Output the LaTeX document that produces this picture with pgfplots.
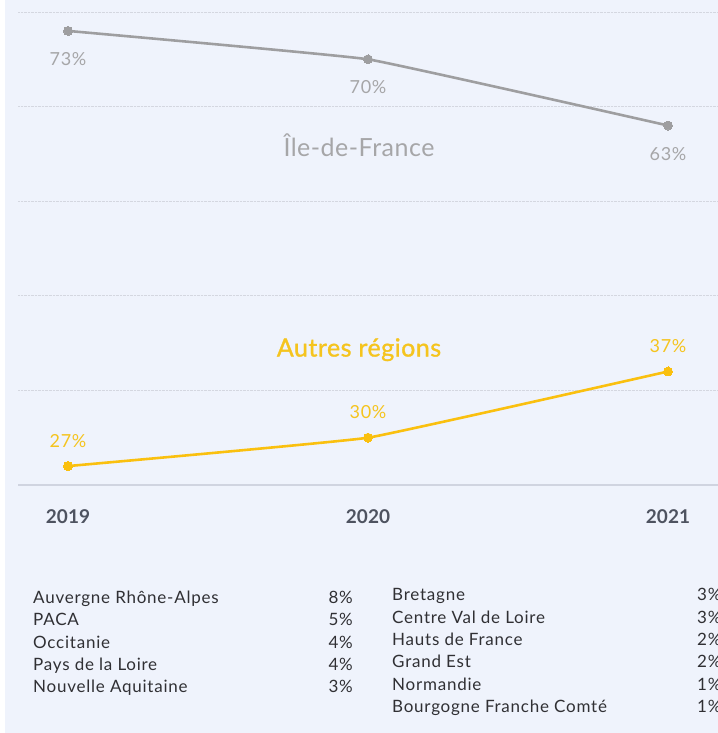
\documentclass[border=0pt]{standalone}
\usepackage{pgfplots}
\pgfplotsset{compat=1.18}
\usepackage{fontspec}
\setmainfont{Lato}
\newfontfamily\tabfont{Lato}[LetterSpace=4.5]
\newfontfamily\labfont{Lato}[LetterSpace=4]
\newfontfamily\serfont{Lato}[LetterSpace=2]
\newfontfamily\serbfont{Lato}[LetterSpace=2, FakeBold=1.2]
\definecolor{bg}{RGB}{239,243,252}
\definecolor{gridc}{RGB}{212,215,224}
\definecolor{axisc}{RGB}{208,212,224}
\definecolor{grayline}{RGB}{158,158,160}
\definecolor{graytext}{RGB}{166,166,168}
\definecolor{yellowline}{RGB}{250,192,15}
\definecolor{yellowtext}{RGB}{245,196,30}
\definecolor{tickc}{RGB}{78,83,96}
\definecolor{tablec}{RGB}{48,48,52}
\begin{document}
\begin{tikzpicture}
\fill[bg] (0,0) rectangle (718bp,733bp);
\fill[white] (0,0) rectangle (5bp,733bp);
\begin{axis}[
  at={(18bp,248bp)}, anchor=south west,
  scale only axis, width=700bp, height=473bp,
  xmin=2018.8333, xmax=2021.1667, ymin=25, ymax=75,
  xtick={2019,2020,2021}, xticklabels={2019,2020,2021},
  ytick={35,45,55,65,75}, yticklabels={},
  ymajorgrids, grid style={densely dotted, gridc, line width=0.9pt},
  extra y ticks={25}, extra y tick labels={},
  extra y tick style={grid style={solid, axisc, line width=1.5pt}},
  axis line style={draw=none},
  major tick length=0pt,
  xticklabel style={font=\fontsize{19bp}{21bp}\selectfont\bfseries, text=tickc, anchor=base, yshift=-39bp},
  clip=false,
  point meta=explicit symbolic,
  nodes near coords,
]
\addplot[grayline, line width=2.6pt, smooth, tension=0.15, mark=*, mark size=4.5bp, mark options={fill=grayline, draw=grayline, line width=0pt},
  every node near coord/.append style={anchor=base, yshift=-34.5bp, text=graytext, font=\labfont\fontsize{18bp}{20bp}\selectfont}]
  coordinates {(2019,73) [73\%] (2020,70) [70\%] (2021,63) [63\%]};
\addplot[yellowline, line width=2.6pt, smooth, tension=0.15, mark=*, mark size=4.5bp, mark options={fill=yellowline, draw=yellowline, line width=0pt},
  every node near coord/.append style={anchor=base, yshift=19bp, text=yellowtext, font=\labfont\fontsize{18bp}{20bp}\selectfont}]
  coordinates {(2019,27) [27\%] (2020,30) [30\%] (2021,37) [37\%]};
\node[text=graytext, font=\serfont\fontsize{25bp}{27bp}\selectfont] at (axis cs:2019.97,60.9) {Île-de-France};
\node[text=yellowtext, font=\serbfont\fontsize{25bp}{27bp}\selectfont] at (axis cs:2019.97,39.3) {Autres régions};
\end{axis}
\begin{scope}[every node/.style={text=tablec, font=\tabfont\fontsize{17bp}{19bp}\selectfont, inner sep=0pt}]
\node[anchor=base west] at (33bp,129.5bp) {Auvergne Rhône-Alpes};
\node[anchor=base west] at (33bp,107.5bp) {PACA};
\node[anchor=base west] at (33bp,84.5bp) {Occitanie};
\node[anchor=base west] at (33bp,62.5bp) {Pays de la Loire};
\node[anchor=base west] at (33bp,40.5bp) {Nouvelle Aquitaine};
\node[anchor=base east] at (353bp,129.5bp) {8\%};
\node[anchor=base east] at (353bp,107.5bp) {5\%};
\node[anchor=base east] at (353bp,84.5bp) {4\%};
\node[anchor=base east] at (353bp,62.5bp) {4\%};
\node[anchor=base east] at (353bp,40.5bp) {3\%};
\node[anchor=base west] at (392bp,132.5bp) {Bretagne};
\node[anchor=base west] at (392bp,109.5bp) {Centre Val de Loire};
\node[anchor=base west] at (392bp,87.5bp) {Hauts de France};
\node[anchor=base west] at (392bp,65.5bp) {Grand Est};
\node[anchor=base west] at (392bp,42.5bp) {Normandie};
\node[anchor=base west] at (392bp,20.5bp) {Bourgogne Franche Comté};
\node[anchor=base west] at (697bp,132.5bp) {3\%};
\node[anchor=base west] at (697bp,109.5bp) {3\%};
\node[anchor=base west] at (697bp,87.5bp) {2\%};
\node[anchor=base west] at (697bp,65.5bp) {2\%};
\node[anchor=base west] at (697bp,42.5bp) {1\%};
\node[anchor=base west] at (697bp,20.5bp) {1\%};
\end{scope}
\pgfresetboundingbox
\path (0,0) rectangle (718bp,733bp);
\end{tikzpicture}
\end{document}
